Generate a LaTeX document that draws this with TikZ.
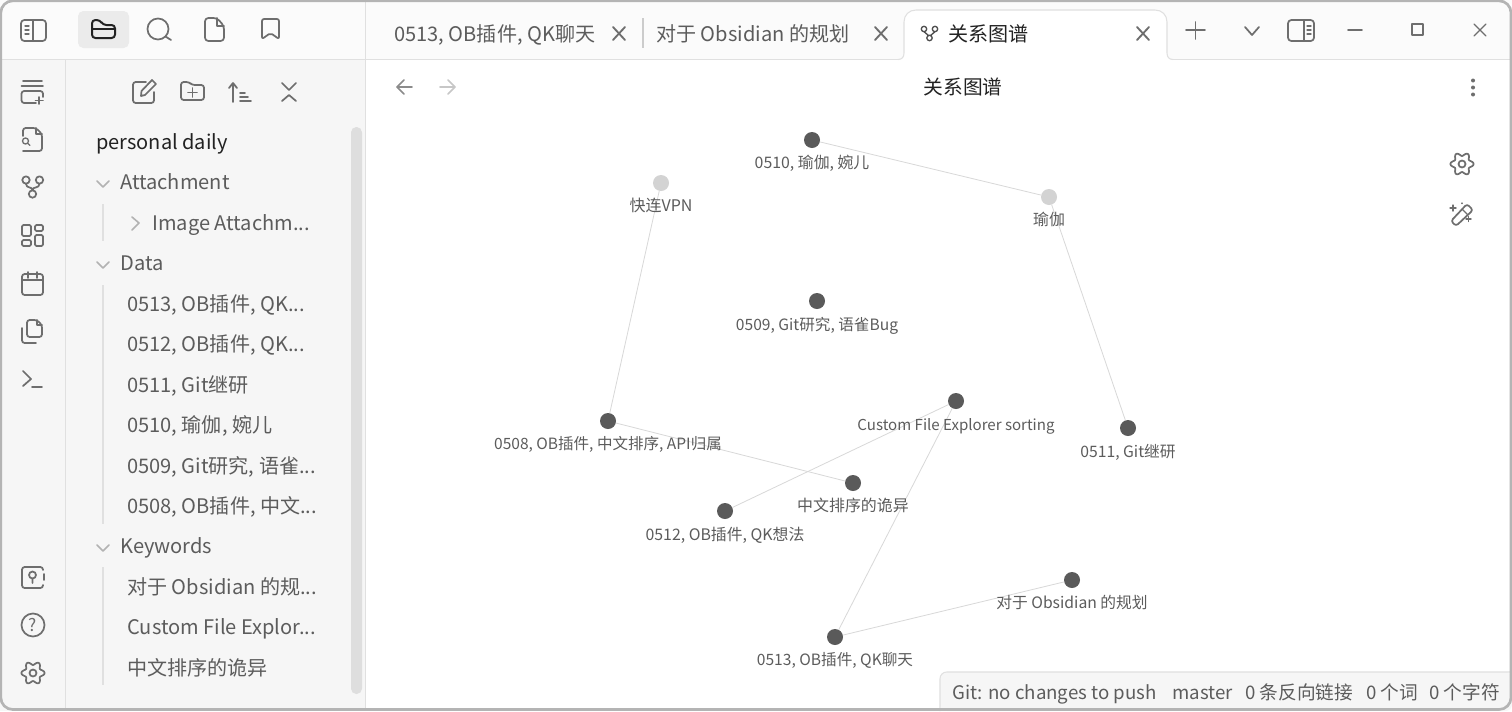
\documentclass[tikz,border=0pt]{standalone}
\usepackage{fontspec}
\setmainfont{Noto Sans CJK SC}
\definecolor{bar}{HTML}{F6F6F6}
\definecolor{topb}{HTML}{FBFBFB}
\definecolor{bord}{HTML}{E0E0E0}
\definecolor{win}{HTML}{B4B4B4}
\definecolor{ink}{HTML}{5C5C5C}
\definecolor{icon}{HTML}{6E6E6E}
\definecolor{dark}{HTML}{222222}
\definecolor{nodeD}{HTML}{5A5A5A}
\definecolor{nodeL}{HTML}{D3D3D3}
\definecolor{edge}{HTML}{D8D8D8}
\tikzset{
 x=0.75pt,y=-0.75pt,
 gnode/.style={circle,fill=nodeD,draw=none,inner sep=0pt,minimum size=12pt},
 gnodelight/.style={gnode,fill=nodeL},
 glabel/.style={inner sep=0pt,text=ink,anchor=base,font=\fontsize{#1}{13}\selectfont},
 gedge/.style={draw=edge,line width=0.6pt},
 treetext/.style={inner sep=0pt,anchor=base west,text=ink,font=\fontsize{15.05}{18}\selectfont},
 folder/.style={treetext,text=ink},
 tabtext/.style={inner sep=0pt,anchor=base west,text=ink,font=\fontsize{15.05}{18}\selectfont},
 stat/.style={inner sep=0pt,anchor=base west,text=ink,font=\fontsize{14}{17}\selectfont},
 ic/.style={draw=icon,line width=1.3pt,line cap=round,line join=round,fill=none},
 guide/.style={draw=bord,line width=1pt},
}
\begin{document}
\begin{tikzpicture}
\useasboundingbox (0,0) rectangle (1512,711);
% window
\fill[white] (0,0) rectangle (1512,711);
\fill[bar] (0,59) rectangle (365,711);
\fill[topb] (0,0) rectangle (1512,59);
\fill[white] (898,59.5) .. controls (902,59.5) and (904,57) .. (904,53) -- (904,22) .. controls (904,15) and (909,10) .. (916,10) -- (1155,10) .. controls (1162,10) and (1167,15) .. (1167,22) -- (1167,53) .. controls (1167,57) and (1169,59.5) .. (1173,59.5) -- (1173,61) -- (898,61) -- cycle;
\draw[bord,line width=.8pt] (0,59.5) -- (898,59.5);
\draw[bord,line width=.8pt] (1173,59.5) -- (1512,59.5);
\draw[bord,line width=.8pt] (898,59.5) .. controls (902,59.5) and (904,57) .. (904,53) -- (904,22) .. controls (904,15) and (909,10) .. (916,10) -- (1155,10) .. controls (1162,10) and (1167,15) .. (1167,22) -- (1167,53) .. controls (1167,57) and (1169,59.5) .. (1173,59.5);
\draw[bord,line width=.8pt] (65.5,59) -- (65.5,711);
\draw[bord,line width=.8pt] (365.5,0) -- (365.5,711);
% header left icons
\fill[black!8,rounded corners=4pt] (78,11) rectangle (129,48);
\draw[ic,rounded corners=2.5pt] (21,20) rectangle (46,41);
\draw[ic] (33,20) -- (33,41);
\draw[ic,line width=1pt] (25,26) -- (29,26) (25,30) -- (29,30) (25,34) -- (29,34);
\draw[ic,draw=dark,line width=1.5pt,rounded corners=2.5pt] (92,38) -- (92,20) -- (100,20) -- (103,25) -- (115,25) -- (115,38) -- cycle;
\draw[ic,draw=dark,line width=1.5pt] (92,29) -- (115,29);
\draw[ic] (158,29) circle[radius=10.5];
\draw[ic] (165.5,36.5) -- (171,40);
\draw[ic,rounded corners=2.5pt] (205,18) -- (217,18) -- (224,26) -- (224,41) -- (205,41) -- cycle;
\draw[ic] (217,18) -- (217,26) -- (224,26);
\draw[ic,rounded corners=1.5pt] (262,19) -- (279,19) -- (279,39) -- (270.5,33) -- (262,39) -- cycle;
% ribbon icons
\draw[ic] (23,81) -- (42,81) (21.5,86) -- (43,86);
\draw[ic,rounded corners=2pt] (36,103) -- (21.5,103) -- (21.5,91) -- (43,91) -- (43,97);
\draw[ic] (39,97) -- (39,104) (35.5,100.5) -- (43,100.5);
\draw[ic,rounded corners=2pt] (23,136) -- (23,128) -- (36,128) -- (42,134) -- (42,151) -- (23,151);
\draw[ic] (36,128) -- (36,134) -- (42,134);
\draw[ic,line width=1pt] (25.5,141) circle[radius=3] (28,143.5) -- (30,145.5);
\draw[ic] (26,180) circle[radius=3.7] (39.5,180) circle[radius=3.7] (32.5,194) circle[radius=3.7];
\draw[ic] (26,183.7) .. controls (26,189) and (32.5,186) .. (32.5,190.3) (39.5,183.7) .. controls (39.5,189) and (32.5,186) .. (32.5,190.3);
\draw[ic,rounded corners=1pt] (22,225) rectangle (31,236) (35,225) rectangle (43,231) (22,240) rectangle (31,246) (35,235) rectangle (43,246);
\draw[ic,rounded corners=2pt] (22,274) rectangle (43,295);
\draw[ic] (22,280) -- (43,280) (28,272) -- (28,278) (37,272) -- (37,278);
\draw[ic,rounded corners=2pt] (27,337) -- (27,320) -- (37,320) -- (42,325) -- (42,337) -- cycle;
\draw[ic] (37,320) -- (37,325) -- (42,325);
\draw[ic,rounded corners=2pt] (22,328) -- (22,343) -- (36,343);
\draw[ic] (23,371) -- (31,379) -- (23,386) (32,387) -- (42,387);
\draw[ic,rounded corners=2pt] (43,570) -- (43,567) -- (22,567) -- (22,588) -- (43,588) -- (43,585);
\draw[ic] (44,574) -- (44,580);
\draw[ic] (32.5,575) circle[radius=3.5] (32.5,578.5) -- (32.5,583);
\draw[ic] (33,625) circle[radius=11.5];
\node[inner sep=0pt,text=icon,font=\fontsize{13}{14}\selectfont] (helpq) at (33,625) {?};
\foreach \gx/\gy in {33/673,1462/164}{
 \draw[ic] (\gx,\gy) circle[radius=3.5];
 \draw[ic] plot[domain=0:360,samples=73,smooth] ({\gx+(9.8+1.8*cos(6*\x))*cos(\x)},{\gy+(9.8+1.8*cos(6*\x))*sin(\x)}) -- cycle;
}
% sidebar tool icons
\draw[ic,rounded corners=2pt] (146,82) -- (133,82) -- (133,103) -- (154,103) -- (154,92);
\draw[ic] (141,96) -- (141.5,91) -- (152,80) -- (156,84) -- (145,95) -- cycle;
\draw[ic,rounded corners=2pt] (181,100) -- (181,82) -- (189,82) -- (192,85) -- (204,85) -- (204,100) -- cycle;
\draw[ic] (192.5,88) -- (192.5,97) (188,92.5) -- (197,92.5);
\draw[ic] (233,102) -- (233,84) (229,88) -- (233,83) -- (237,88) (240,93) -- (245,93) (240,97) -- (248,97) (240,101) -- (251,101);
\draw[ic] (282,83) -- (289,90) -- (296,83) (282,101) -- (289,95) -- (296,101);
% sidebar scrollbar
\fill[black!13,rounded corners=4pt] (351,127) rectangle (362,694);
% tree
\node[inner sep=0pt,anchor=base west,text=dark,font=\fontsize{15}{18}\selectfont] (root) at (96,149) {personal daily};
\foreach \yy in {182,263,546}{ \draw[draw=black!30,line width=1.2pt,line join=round,line cap=round] (97,\yy-1) -- (103,\yy+5) -- (109,\yy-1); }
\draw[draw=black!30,line width=1.2pt,line cap=round,line join=round] (132,217) -- (139,223) -- (132,230);
\node[folder] (t1) at (120,189) {Attachment};
\node[folder] (t2) at (152,230) {Image Attachm...};
\node[folder] (t3) at (120,270) {Data};
\node[treetext] (t4) at (127,311) {0513, OB插件, QK...};
\node[treetext] (t5) at (127,351) {0512, OB插件, QK...};
\node[treetext] (t6) at (127,392) {0511, Git继研};
\node[treetext] (t7) at (127,432) {0510, 瑜伽, 婉儿};
\node[treetext] (t8) at (127,473) {0509, Git研究, 语雀...};
\node[treetext] (t9) at (127,513) {0508, OB插件, 中文...};
\node[folder] (t10) at (120,553) {Keywords};
\node[treetext] (t11) at (127,594) {对于 Obsidian 的规...};
\node[treetext] (t12) at (127,634) {Custom File Explor...};
\node[treetext] (t13) at (127,675) {中文排序的诡异};
\draw[guide] (103,204) -- (103,241) (103,285) -- (103,524) (103,567) -- (103,685);
% tabs
\node[tabtext] (tab1) at (394,41) {0513, OB插件, QK聊天};
\draw[ic,line width=1.4pt] (613,27) -- (625,40) (625,27) -- (613,40);
\draw[draw=black!20,line width=1.2pt] (643,18) -- (643,48);
\node[tabtext] (tab2) at (656,41) {对于 Obsidian 的规划};
\draw[ic,line width=1.4pt] (875,27) -- (887,40) (887,27) -- (875,40);
\draw[ic,line width=1pt,draw=dark!80] (924,29) circle[radius=2.7] (935,29) circle[radius=2.7] (929.5,38) circle[radius=2.7] (924,31.7) -- (928.5,35.5) (935,31.7) -- (930.5,35.5);
\node[tabtext,text=dark] (tab3) at (948,41) {关系图谱};
\draw[ic,line width=1.4pt] (1137,27) -- (1149,40) (1149,27) -- (1137,40);
\draw[ic] (1186,30) -- (1205,30) (1195.5,22) -- (1195.5,39);
\draw[ic] (1245,27) -- (1252,35) -- (1259,27);
\draw[ic,rounded corners=2.5pt] (1288,20) rectangle (1314,41);
\draw[ic] (1304,20) -- (1304,41);
\draw[ic,line width=1pt] (1307,26) -- (1311,26) (1307,30) -- (1311,30) (1307,34) -- (1311,34);
\draw[ic] (1348,30) -- (1362,30);
\draw[ic,line width=1.2pt] (1412,24) rectangle (1423,35);
\draw[ic,line width=1pt] (1474,24) -- (1486,36) (1486,24) -- (1474,36);
% nav
\draw[draw=icon!80,line width=1.3pt,line cap=round,line join=round] (397,87) -- (412,87) (404,80) -- (397,87) -- (404,94);
\draw[draw=black!22,line width=1.3pt,line cap=round,line join=round] (440,87) -- (455,87) (448,80) -- (455,87) -- (448,94);
\node[inner sep=0pt,text=dark,font=\fontsize{14.8}{18}\selectfont] (title) at (963,87) {关系图谱};
\fill[icon] (1473,80.5) circle[radius=2] (1473,87.5) circle[radius=2] (1473,94.5) circle[radius=2];
% wand
\draw[ic,rounded corners=2pt] (1451,221) -- (1467,204) -- (1473,210) -- (1456,226) -- cycle;
\draw[ic,line width=1pt] (1462,209) -- (1468,215);
\draw[ic,line width=1pt] (1450,208) -- (1456,208) (1453,205) -- (1453,211) (1462,203) -- (1462,203.5) (1466,219) -- (1471,219) (1468.5,216.5) -- (1468.5,221.5);
% graph
\node[gnode] (n0510) at (812,140) {};
\node[gnodelight] (nyujia) at (1049,197) {};
\node[gnodelight] (nvpn) at (661,183) {};
\node[gnode] (n0509) at (817,301) {};
\node[gnode] (ncustom) at (956,401) {};
\node[gnode] (n0511) at (1128,428) {};
\node[gnode] (n0508) at (608,421) {};
\node[gnode] (nsort) at (853,483) {};
\node[gnode] (n0512) at (725,511) {};
\node[gnode] (nobs) at (1072,580) {};
\node[gnode] (n0513) at (835,637) {};
\draw[gedge] (n0510) -- (nyujia);
\draw[gedge] (nyujia) -- (n0511);
\draw[gedge] (nvpn) -- (n0508);
\draw[gedge] (n0508) -- (nsort);
\draw[gedge] (ncustom) -- (n0512);
\draw[gedge] (ncustom) -- (n0513);
\draw[gedge] (n0513) -- (nobs);
\node[glabel=11.9] (l1) at (812,168) {0510, 瑜伽, 婉儿};
\node[glabel=11.9] (l2) at (1049,225) {瑜伽};
\node[glabel=12] (l3) at (661,211) {快连VPN};
\node[glabel=11.7] (l4) at (817,330) {0509, Git研究, 语雀Bug};
\node[glabel=11.3] (l5) at (956,430) {Custom File Explorer sorting};
\node[glabel=11.8] (l6) at (1128,457) {0511, Git继研};
\node[glabel=11.65] (l7) at (608,449) {0508, OB插件, 中文排序, API归属};
\node[glabel=11.95] (l8) at (853,511) {中文排序的诡异};
\node[glabel=11.9] (l9) at (725,540) {0512, OB插件, QK想法};
\node[glabel=11.8] (l10) at (1072,608.5) {对于 Obsidian 的规划};
\node[glabel=11.7] (l11) at (835,665) {0513, OB插件, QK聊天};
% status bar
\fill[bar,rounded corners=5pt] (940,711) -- (940,672) -- (1512,672) -- (1512,711) -- cycle;
\draw[bord,line width=.8pt,rounded corners=5pt] (940,711) -- (940,672) -- (1512,672);
\node[stat] (s1) at (952,699) {Git: no changes to push};
\node[stat] (s2) at (1172,699) {master};
\node[stat] (s3) at (1245,699) {0 条反向链接};
\node[stat] (s4) at (1366,699) {0 个词};
\node[stat] (s5) at (1429,699) {0 个字符};
% window frame
\draw[win,line width=2pt,rounded corners=9pt] (0.8,0.8) rectangle (1511,709.5);
\end{tikzpicture}
\end{document}
